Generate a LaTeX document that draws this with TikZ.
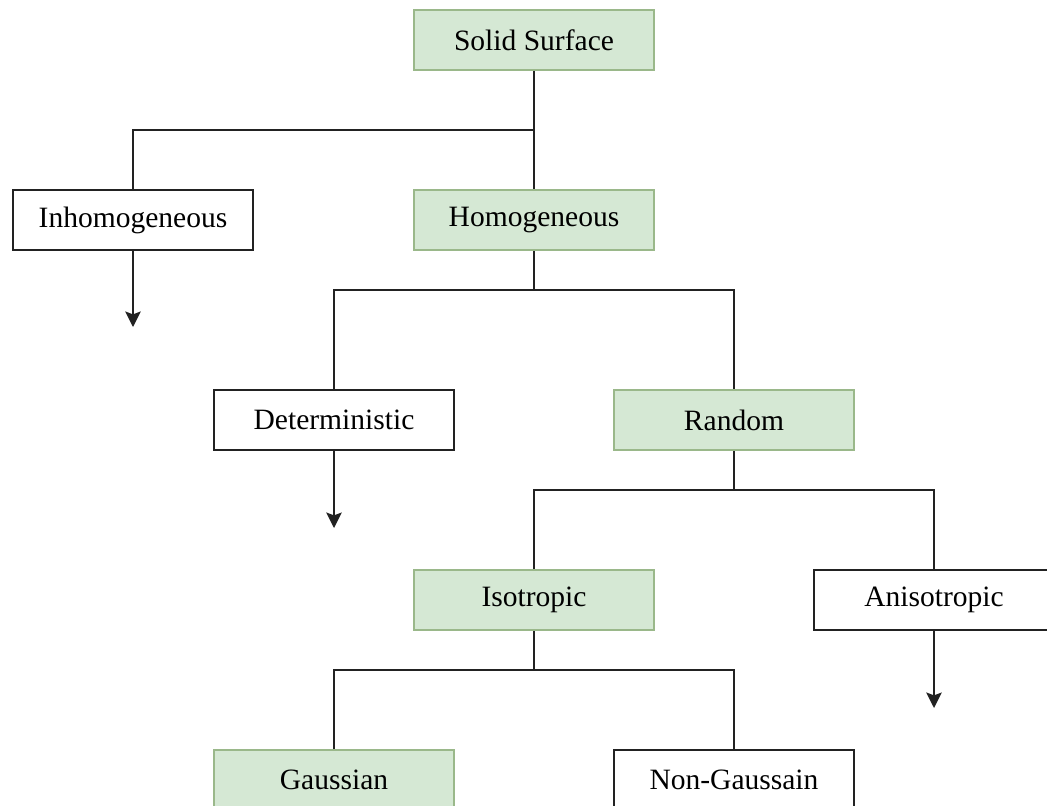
\documentclass[tikz,border=0pt]{standalone}
\usepackage{fontspec}
\setmainfont{Liberation Serif}
\usepackage{xcolor}
\usepackage{tikz}
\usetikzlibrary{arrows.meta}
\definecolor{leafFill}{HTML}{D5E8D4}
\definecolor{leafEdge}{HTML}{9AB88A}
\definecolor{treeInk}{HTML}{222222}

\tikzset{
  kindbox/.style={draw=treeInk, line width=1.4pt, fill=white, minimum width=6cm,
    minimum height=1.5cm, inner sep=0pt, font=\fontsize{21}{25}\selectfont},
  pathbox/.style={kindbox, draw=leafEdge, fill=leafFill},
  branch/.style={treeInk, line width=1.4pt},
  openend/.style={branch, -{Stealth[width=11pt,length=11pt,inset=2pt]}}
}

\begin{document}
\begin{tikzpicture}[x=0.025cm, y=-0.025cm, line join=miter]
  \useasboundingbox (0,0) rectangle (1047,805);
  \clip (0,0) rectangle (1047,805);

  \node[pathbox] (solid) at (534,40) {Solid Surface};
  \node[kindbox] (inhom) at (133,220) {Inhomogeneous};
  \node[pathbox] (homog) at (534,220) {Homogeneous};
  \node[kindbox] (determ) at (334,420) {Deterministic};
  \node[pathbox] (random) at (734,420) {Random};
  \node[pathbox] (iso) at (534,600) {Isotropic};
  \node[kindbox] (aniso) at (934,600) {Anisotropic};
  \node[pathbox] (gauss) at (334,780) {Gaussian};
  \node[kindbox] (nongauss) at (734,780) {Non-Gaussain};

  % open ends below the unexpanded branches
  \coordinate (inhom-end) at (133,327);
  \coordinate (determ-end) at (334,528);
  \coordinate (aniso-end) at (934,708);
  \coordinate (solid-bar) at (534,130);

  \draw[branch] (solid.south) -- (homog.north);
  \draw[branch] (inhom.north) |- (solid-bar);
  \foreach \parent/\lkid/\rkid in {homog/determ/random, random/iso/aniso, iso/gauss/nongauss}{%
    \path (\parent.south) ++(0,39) coordinate (\parent-bar);
    \draw[branch] (\parent.south) -- (\parent-bar);
    \draw[branch] (\lkid.north) |- (\parent-bar) -| (\rkid.north);
  }
  \foreach \src in {inhom, determ, aniso}{%
    \draw[openend] (\src.south) -- (\src-end);
  }
\end{tikzpicture}
\end{document}
